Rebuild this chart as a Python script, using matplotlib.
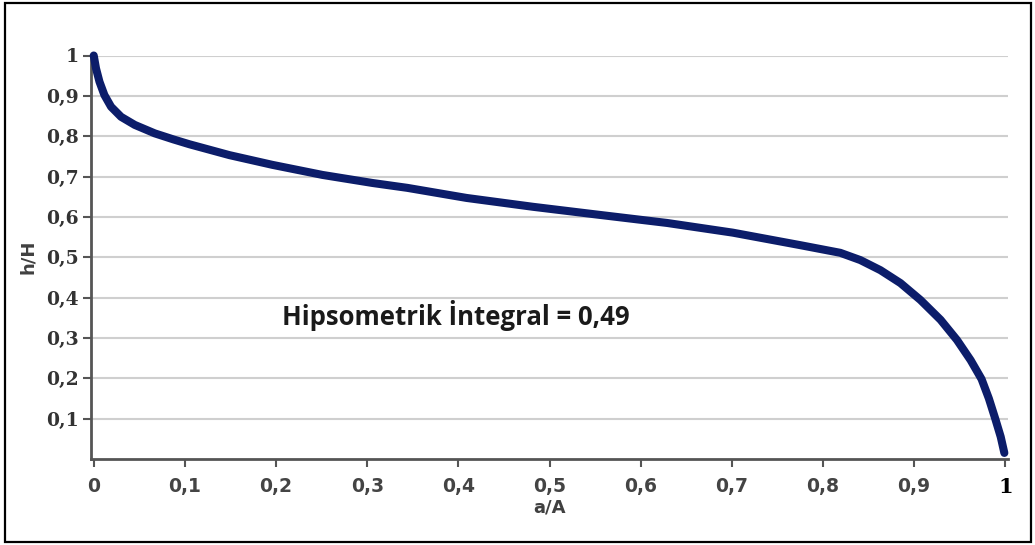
import matplotlib
matplotlib.use("Agg")
import matplotlib.pyplot as plt
from matplotlib.patches import Rectangle

# hypsometric curve
area_ratio = [0.0, 0.0025, 0.0063, 0.0117, 0.019, 0.030, 0.045, 0.067, 0.0875, 0.105,
              0.149, 0.196, 0.251, 0.306, 0.344, 0.409, 0.482, 0.555, 0.629, 0.701,
              0.775, 0.819, 0.841, 0.863, 0.885, 0.907, 0.929, 0.947, 0.962, 0.974,
              0.982, 0.989, 0.995, 0.999]
height_ratio = [1.0, 0.968, 0.935, 0.902, 0.873, 0.848, 0.828, 0.807, 0.792, 0.780,
                0.753, 0.729, 0.704, 0.684, 0.672, 0.647, 0.625, 0.605, 0.585, 0.561,
                0.530, 0.511, 0.493, 0.468, 0.436, 0.394, 0.345, 0.295, 0.245, 0.198,
                0.150, 0.100, 0.055, 0.015]

x_ticks = [0, 0.1, 0.2, 0.3, 0.4, 0.5, 0.6, 0.7, 0.8, 0.9, 1.0]
x_ticklabels = ["0", "0,1", "0,2", "0,3", "0,4", "0,5", "0,6", "0,7", "0,8", "0,9", "1"]
y_ticks = [0.1, 0.2, 0.3, 0.4, 0.5, 0.6, 0.7, 0.8, 0.9, 1.0]
y_ticklabels = ["0,1", "0,2", "0,3", "0,4", "0,5", "0,6", "0,7", "0,8", "0,9", "1"]
note = "Hipsometrik İntegral = 0,49"

W, H = 1035, 545
fig = plt.figure(figsize=(W / 100, H / 100), dpi=100)
ax = fig.add_axes([91 / W, 1 - 459 / H, (1008 - 91) / W, (459 - 55.5) / H])

ax.plot(area_ratio, height_ratio, color="#0c1d6a", lw=5.8,
        solid_capstyle="round", solid_joinstyle="round", clip_on=False, zorder=3)

ax.set_xlim(-0.003, 1.003)
ax.set_ylim(0, 1.0)

ax.set_yticks(y_ticks)
ax.set_yticklabels(y_ticklabels, family="DejaVu Serif", fontweight="bold",
                   fontsize=13.5, color="#333333")
ax.set_xticks(x_ticks)
ax.set_xticklabels(x_ticklabels, family="DejaVu Sans", fontweight="bold",
                   fontsize=13.5, color="#444444")
ax.get_xticklabels()[-1].set_color("black")
ax.get_xticklabels()[-1].set_family("DejaVu Serif")
ax.get_xticklabels()[-1].set_fontsize(15)

ax.tick_params(axis="both", direction="out", length=6, width=1.5, color="#555555")
ax.tick_params(axis="y", pad=3)
ax.tick_params(axis="x", pad=7)

ax.grid(axis="y", color="#cfcfcf", lw=1.5)
ax.set_axisbelow(True)
for side in ["top", "right"]:
    ax.spines[side].set_visible(False)
for side in ["left", "bottom"]:
    ax.spines[side].set_color("#555555")
    ax.spines[side].set_linewidth(2)

ax.set_xlabel("a/A", fontweight="bold", fontsize=13, color="#404040", labelpad=1)
ax.set_ylabel("h/H", fontweight="bold", fontsize=13, color="#404040", labelpad=6)

ax.text(0.206, 0.332, note, family="Open Sans", fontweight="bold", fontsize=18.5,
        color="#1a1a1a", ha="left", va="baseline")

fig.patches.append(Rectangle((5 / W, 3 / H), 1026 / W, 539 / H, transform=fig.transFigure,
                             fill=False, edgecolor="black", lw=1.6))

fig.savefig("out.png", dpi=100)
